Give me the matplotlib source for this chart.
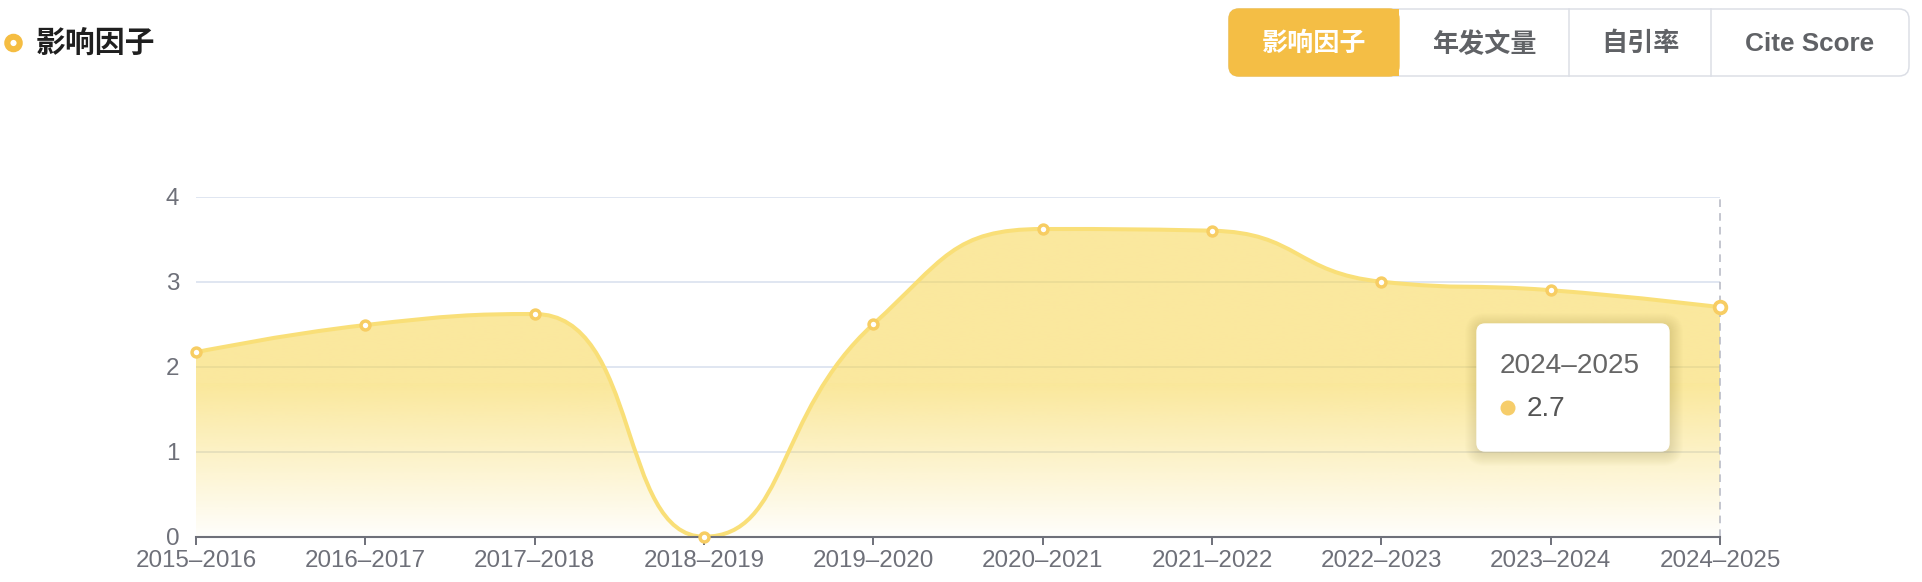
import matplotlib.pyplot as plt
import numpy as np
from matplotlib.path import Path
from matplotlib.patches import PathPatch, FancyBboxPatch, Circle, Rectangle

plt.rcParams['font.family'] = ['Liberation Sans', 'Noto Sans CJK SC', 'DejaVu Sans']

# data
years = ['2015–2016', '2016–2017', '2017–2018', '2018–2019', '2019–2020',
         '2020–2021', '2021–2022', '2022–2023', '2023–2024', '2024–2025']
impact = [2.17, 2.49, 2.62, 0.0, 2.5, 3.62, 3.6, 3.0, 2.9, 2.7]
title = '影响因子'
buttons = ['影响因子', '年发文量', '自引率', 'Cite Score']
hover_idx = 9

W, H = 1922, 582
fig = plt.figure(figsize=(W / 100, H / 100), dpi=100)
ax = fig.add_axes([196 / W, 1 - 536.7 / H, (1720 - 196) / W, (536.7 - 196.7) / H])

# echarts style smoothing (computed in pixel space)
sx, sy = (1720 - 196) / 9, 85.0


def smooth_verts(xs, ys, smooth=0.5):
    px = [x * sx for x in xs]
    py = [y * sy for y in ys]
    n = len(px)
    verts = [(px[0], py[0])]
    codes = [Path.MOVETO]
    c0x, c0y = px[0], py[0]
    for i in range(1, n):
        x, y = px[i], py[i]
        ppx, ppy = px[i - 1], py[i - 1]
        if i == n - 1:
            c1x, c1y = x, y
            ncx, ncy = x, y
        else:
            nx, ny = px[i + 1], py[i + 1]
            vx, vy = nx - ppx, ny - ppy
            lp = np.hypot(x - ppx, y - ppy)
            ln = np.hypot(nx - x, ny - y)
            r = ln / (ln + lp)
            ncx = np.clip(x + vx * smooth * r, min(nx, x), max(nx, x))
            ncy = np.clip(y + vy * smooth * r, min(ny, y), max(ny, y))
            vx, vy = ncx - x, ncy - y
            c1x = np.clip(x - vx * lp / ln, min(ppx, x), max(ppx, x))
            c1y = np.clip(y - vy * lp / ln, min(ppy, y), max(ppy, y))
            vx, vy = x - c1x, y - c1y
            ncx, ncy = x + vx * ln / lp, y + vy * ln / lp
        verts += [(c0x, c0y), (c1x, c1y), (x, y)]
        codes += [Path.CURVE4] * 3
        c0x, c0y = ncx, ncy
    verts = [(a / sx, b / sy) for a, b in verts]
    return verts, codes


xs = np.arange(len(years))
verts, codes = smooth_verts(xs, impact)

ax.set_xlim(0, len(years) - 1)
ax.set_ylim(0, 4)
ax.set_yticks([0, 1, 2, 3, 4])
ax.set_xticks(xs)
ax.set_xticklabels(years)
ax.grid(axis='y', color='#E0E6F1', lw=1.4, zorder=0)
ax.set_axisbelow(True)
for s in ['top', 'right', 'left']:
    ax.spines[s].set_visible(False)
ax.spines['bottom'].set_color('#6E7079')
ax.spines['bottom'].set_linewidth(1.5)
ax.spines['bottom'].set_zorder(5)
ax.tick_params(axis='x', colors='#6E7079', length=5.8, width=1.4, pad=3.6,
               labelsize=17.4)
ax.tick_params(axis='y', colors='#6E7079', length=0, pad=12, labelsize=17.4)

# gradient area
fill_verts = verts + [(xs[-1], 0), (0, 0), verts[0]]
fill_codes = codes + [Path.LINETO, Path.LINETO, Path.CLOSEPOLY]
fill_patch = PathPatch(Path(fill_verts, fill_codes), facecolor='none',
                       edgecolor='none', transform=ax.transData)
ax.add_patch(fill_patch)
ymax = max(impact)
yy = np.linspace(0, ymax, 400)
t = (ymax - yy) / ymax
alpha = np.where(t <= 0.5, 0.55, 0.55 * (1 - t) / 0.5 + 0.02)
grad = np.zeros((400, 2, 4))
grad[..., 0] = 247 / 255
grad[..., 1] = 214 / 255
grad[..., 2] = 78 / 255
grad[..., 3] = alpha[:, None]
im = ax.imshow(grad, extent=(0, xs[-1], 0, ymax), origin='lower',
               aspect='auto', zorder=2, interpolation='bilinear')
im.set_clip_path(fill_patch)

# line
ax.add_patch(PathPatch(Path(verts, codes), facecolor='none',
                       edgecolor='#F9DF78', lw=2.9, zorder=3))

# hover pointer
ax.plot([xs[hover_idx], xs[hover_idx]], [0, 4], color='#B4B7C2', lw=1.1,
        ls=(0, (5, 4)), zorder=4, clip_on=False)

# markers
ax.plot(xs, impact, 'o', ms=6.4, mfc='white', mec='#F7CD63', mew=2.5,
        zorder=6, clip_on=False)
ax.plot(xs[hover_idx], impact[hover_idx], 'o', ms=8.4, mfc='white',
        mec='#F7CD63', mew=2.7, zorder=7, clip_on=False)

# overlay in pixel coordinates
ov = fig.add_axes([0, 0, 1, 1])
ov.set_xlim(0, W)
ov.set_ylim(H, 0)
ov.axis('off')

# header
ov.add_patch(Circle((13.5, 43), 6.2, facecolor='none', edgecolor='#F5BD42',
                    lw=4.4))
ov.text(36, 44, title, fontsize=21.5, fontweight='bold', color='#1F1F1F',
        va='center', ha='left')

# button group
bx = [1229, 1399, 1569, 1711, 1909]
by0, by1 = 9, 76
ov.add_patch(FancyBboxPatch((bx[0], by0), bx[-1] - bx[0], by1 - by0,
                            boxstyle='round,pad=0,rounding_size=10',
                            facecolor='white', edgecolor='#DCDFE6', lw=1.1))
ov.add_patch(FancyBboxPatch((bx[0], by0), bx[1] - bx[0], by1 - by0,
                            boxstyle='round,pad=0,rounding_size=10',
                            facecolor='#F4BE45', edgecolor='#F4BE45', lw=1))
ov.add_patch(Rectangle((bx[1] - 20, by0), 20, by1 - by0,
                       facecolor='#F4BE45', edgecolor='none'))
for b in bx[2:-1]:
    ov.plot([b, b], [by0, by1], color='#DCDFE6', lw=1.1)
for i, lab in enumerate(buttons):
    ov.text((bx[i] + bx[i + 1]) / 2, 44, lab, fontsize=18.8, fontweight='bold',
            color='white' if i == 0 else '#606266', ha='center', va='center')

# tooltip
tx0, ty0, tx1, ty1 = 1477, 324, 1669, 451
for k in range(1, 14):
    ov.add_patch(FancyBboxPatch((tx0 + 1 - k, ty0 + 2 - k), tx1 - tx0 + 2 * k,
                                ty1 - ty0 + 2 * k,
                                boxstyle='round,pad=0,rounding_size=%d' % (8 + k),
                                facecolor='#8A7A40', edgecolor='none',
                                alpha=0.014))
ov.add_patch(FancyBboxPatch((tx0, ty0), tx1 - tx0, ty1 - ty0,
                            boxstyle='round,pad=0,rounding_size=8',
                            facecolor='white', edgecolor='white', lw=1))
ov.text(1500, 366, years[hover_idx], fontsize=20.2, color='#666666',
        ha='left', va='center')
ov.add_patch(Circle((1508, 408), 7.5, facecolor='#F6CD6A', edgecolor='none'))
ov.text(1527, 409, '%.1f' % impact[hover_idx], fontsize=20.2, color='#555555',
        ha='left', va='center')

fig.savefig('out.png', dpi=100)
